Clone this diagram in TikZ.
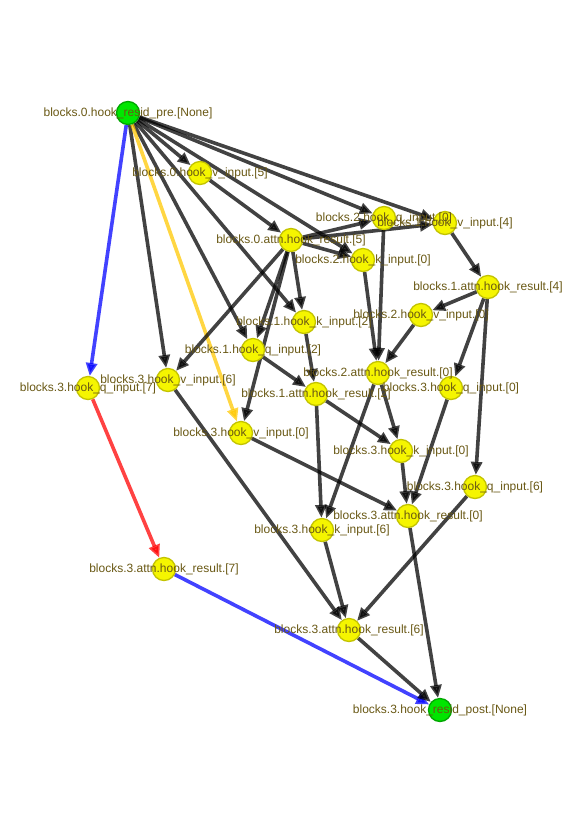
\documentclass[tikz,border=0pt]{standalone}
\usepackage{fontspec}
\setmainfont{Liberation Sans}
\usetikzlibrary{arrows.meta}
\definecolor{lbl}{RGB}{105,88,20}
\definecolor{yfill}{RGB}{245,245,0}
\definecolor{ydraw}{RGB}{195,195,0}
\definecolor{gfill}{RGB}{0,230,0}
\definecolor{gdraw}{RGB}{0,165,0}
\definecolor{eblue}{RGB}{0,0,255}
\definecolor{ered}{RGB}{255,0,0}
\definecolor{egold}{RGB}{255,200,0}
\pgfdeclarelayer{bg}
\pgfsetlayers{bg,main}
\begin{document}
\begin{tikzpicture}[x=1pt,y=-1pt,
  nd/.style={circle, draw=ydraw, fill=yfill, line width=1.3pt, minimum size=23pt, inner sep=0pt},
  gn/.style={nd, fill=gfill, draw=gdraw},
  lb/.style={text=lbl, font=\fontsize{12}{14}\selectfont, inner sep=0pt, anchor=center},
  ed/.style={draw=black, draw opacity=0.74, fill opacity=0.74, line width=3.6pt, -{Triangle[length=13pt,width=11pt]}},
  edblue/.style={ed, draw=eblue},
  edred/.style={ed, draw=ered},
  edgold/.style={ed, draw=egold}
]
\useasboundingbox (0,0) rectangle (582,823);
% nodes
\node[gn] (A) at (128,113) {};
\node[nd] (B) at (200,173) {};
\node[nd] (C) at (291,240) {};
\node[nd] (D) at (384,218) {};
\node[nd] (E) at (445,223) {};
\node[nd] (F) at (363,260) {};
\node[nd] (G) at (488,287) {};
\node[nd] (H) at (421,315) {};
\node[nd] (I) at (304,322) {};
\node[nd] (J) at (253,350) {};
\node[nd] (K) at (168,380) {};
\node[nd] (L) at (378,373) {};
\node[nd] (M) at (316,394) {};
\node[nd] (N) at (451,388) {};
\node[nd] (O) at (88,388) {};
\node[nd] (P) at (241,433) {};
\node[nd] (Q) at (401,451) {};
\node[nd] (R) at (475,487) {};
\node[nd] (S) at (408,516) {};
\node[nd] (T) at (322,530) {};
\node[nd] (U) at (164,569) {};
\node[nd] (V) at (349,630) {};
\node[gn] (W) at (440,710) {};
% edges
\begin{pgfonlayer}{bg}
\draw[ed] (A) -- (B);
\draw[ed] (A) -- (D);
\draw[ed] (A) -- (E);
\draw[ed] (A) -- (F);
\draw[ed] (A) -- (I);
\draw[ed] (A) -- (J);
\draw[ed] (A) -- (K);
\draw[edblue] (A) -- (O);
\draw[edgold] (A) -- (P);
\draw[ed] (B) -- (C);
\draw[ed] (C) -- (D);
\draw[ed] (C) -- (E);
\draw[ed] (C) -- (F);
\draw[ed] (C) -- (I);
\draw[ed] (C) -- (J);
\draw[ed] (C) -- (K);
\draw[ed] (C) -- (P);
\draw[ed] (D) -- (L);
\draw[ed] (F) -- (L);
\draw[ed] (H) -- (L);
\draw[ed] (E) -- (G);
\draw[ed] (G) -- (H);
\draw[ed] (G) -- (N);
\draw[ed] (G) -- (R);
\draw[ed] (I) -- (M);
\draw[ed] (J) -- (M);
\draw[ed] (L) -- (Q);
\draw[ed] (L) -- (T);
\draw[ed] (M) -- (Q);
\draw[ed] (M) -- (T);
\draw[ed] (N) -- (S);
\draw[ed] (Q) -- (S);
\draw[ed] (P) -- (S);
\draw[ed] (K) -- (V);
\draw[ed] (T) -- (V);
\draw[ed] (R) -- (V);
\draw[edred] (O) -- (U);
\draw[edblue] (U) -- (W);
\draw[ed] (V) -- (W);
\draw[ed] (S) -- (W);
\end{pgfonlayer}
% labels
\node[lb] (A-l) at (A) {blocks.0.hook\_resid\_pre.[None]};
\node[lb] (B-l) at (B) {blocks.0.hook\_v\_input.[5]};
\node[lb] (C-l) at (C) {blocks.0.attn.hook\_result.[5]};
\node[lb] (D-l) at (D) {blocks.2.hook\_q\_input.[0]};
\node[lb] (E-l) at (E) {blocks.1.hook\_v\_input.[4]};
\node[lb] (F-l) at (F) {blocks.2.hook\_k\_input.[0]};
\node[lb] (G-l) at (G) {blocks.1.attn.hook\_result.[4]};
\node[lb] (H-l) at (H) {blocks.2.hook\_v\_input.[0]};
\node[lb] (I-l) at (I) {blocks.1.hook\_k\_input.[2]};
\node[lb] (J-l) at (J) {blocks.1.hook\_q\_input.[2]};
\node[lb] (K-l) at (K) {blocks.3.hook\_v\_input.[6]};
\node[lb] (L-l) at (L) {blocks.2.attn.hook\_result.[0]};
\node[lb] (M-l) at (M) {blocks.1.attn.hook\_result.[2]};
\node[lb] (N-l) at (N) {blocks.3.hook\_q\_input.[0]};
\node[lb] (O-l) at (O) {blocks.3.hook\_q\_input.[7]};
\node[lb] (P-l) at (P) {blocks.3.hook\_v\_input.[0]};
\node[lb] (Q-l) at (Q) {blocks.3.hook\_k\_input.[0]};
\node[lb] (R-l) at (R) {blocks.3.hook\_q\_input.[6]};
\node[lb] (S-l) at (S) {blocks.3.attn.hook\_result.[0]};
\node[lb] (T-l) at (T) {blocks.3.hook\_k\_input.[6]};
\node[lb] (U-l) at (U) {blocks.3.attn.hook\_result.[7]};
\node[lb] (V-l) at (V) {blocks.3.attn.hook\_result.[6]};
\node[lb] (W-l) at (W) {blocks.3.hook\_resid\_post.[None]};
\end{tikzpicture}
\end{document}
